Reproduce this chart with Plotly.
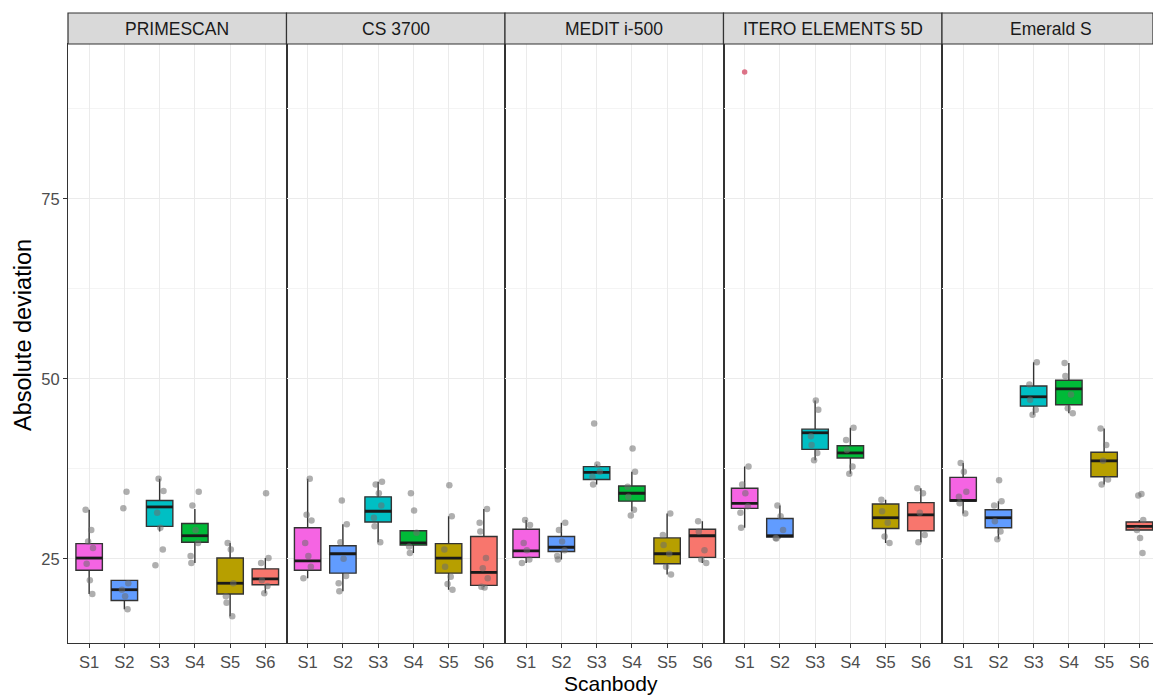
import plotly.graph_objects as go
from plotly.subplots import make_subplots

FACETS = ["PRIMESCAN", "CS 3700", "MEDIT i-500", "ITERO ELEMENTS 5D", "Emerald S"]
SCANBODIES = ["S1", "S2", "S3", "S4", "S5", "S6"]
FILL_COLORS = ["#F564E3", "#619CFF", "#00BFC4", "#00BA38", "#B79F00", "#F8766D"]
Y_TICKS = [25, 50, 75]

# box statistics per facet (rows) and scanbody (columns)
LOWER = [
    [20.1, 18.0, 28.8, 24.4, 17.0, 20.2],
    [22.3, 20.5, 27.3, 25.8, 20.7, 21.1],
    [24.4, 24.9, 35.3, 31.6, 22.8, 24.4],
    [29.3, 27.8, 38.7, 36.8, 27.2, 27.3],
    [31.3, 27.7, 45.0, 45.2, 35.3, 29.0],
]
Q1 = [
    [23.4, 19.2, 29.5, 27.3, 20.1, 21.4],
    [23.4, 23.0, 30.1, 26.9, 23.0, 21.3],
    [25.2, 26.0, 36.0, 33.0, 24.3, 25.2],
    [32.0, 28.0, 40.2, 39.0, 29.2, 28.9],
    [33.0, 29.3, 46.2, 46.4, 36.4, 29.0],
]
MEDIAN = [
    [25.1, 20.7, 32.2, 28.2, 21.6, 22.2],
    [24.7, 25.7, 31.6, 27.2, 25.1, 23.1],
    [26.1, 26.6, 37.0, 34.1, 25.7, 28.2],
    [32.7, 28.2, 42.5, 39.7, 30.7, 31.1],
    [33.1, 30.7, 47.5, 48.6, 38.6, 29.5],
]
Q3 = [
    [27.1, 22.0, 33.1, 29.9, 25.1, 23.6],
    [29.3, 26.8, 33.6, 28.9, 27.1, 28.1],
    [29.1, 28.1, 37.8, 35.1, 27.9, 29.1],
    [34.8, 30.6, 43.0, 40.7, 32.6, 32.8],
    [36.3, 31.8, 49.0, 49.8, 39.8, 30.1],
]
UPPER = [
    [31.8, 22.0, 36.1, 31.9, 27.2, 25.1],
    [36.1, 29.8, 35.7, 28.9, 30.9, 31.9],
    [30.4, 30.0, 38.1, 37.1, 31.3, 30.2],
    [37.8, 32.4, 47.0, 43.2, 33.2, 34.8],
    [38.3, 33.0, 52.3, 52.2, 43.1, 30.4],
]

# individual observations (jittered grey points)
PRIMESCAN_POINTS = [
    [31.8, 29.0, 27.4, 26.5, 24.3, 22.0, 20.1],
    [34.3, 32.0, 21.6, 20.7, 19.8, 18.0],
    [36.1, 34.4, 31.4, 29.3, 26.3, 24.1],
    [34.3, 32.4, 29.0, 27.2, 25.4, 24.4],
    [27.2, 26.3, 21.6, 19.8, 18.9, 17.0],
    [34.1, 25.1, 24.4, 22.0, 21.2, 20.2],
]
CS3700_POINTS = [
    [36.1, 31.1, 30.3, 27.2, 25.4, 23.9, 22.3],
    [33.1, 29.8, 27.3, 25.0, 22.6, 21.6, 20.5],
    [35.7, 35.3, 34.1, 32.4, 30.7, 29.5, 27.3],
    [34.1, 31.7, 28.6, 26.7, 25.8],
    [35.2, 30.9, 26.3, 23.9, 22.5, 21.5, 20.7],
    [31.9, 30.0, 28.8, 25.1, 23.7, 22.3, 21.1, 21.0],
]
MEDIT_POINTS = [
    [30.4, 29.7, 27.2, 26.2, 24.9, 24.4],
    [30.0, 29.0, 27.4, 26.2, 25.4, 24.9],
    [43.8, 38.1, 37.1, 36.4, 35.3],
    [40.3, 37.1, 35.0, 33.6, 31.8, 31.0],
    [31.3, 28.3, 26.9, 25.7, 23.9, 22.8],
    [30.2, 28.8, 26.2, 24.9, 24.4],
]
ITERO_POINTS = [
    [37.8, 35.3, 34.1, 32.3, 31.4, 29.3],
    [32.4, 30.9, 29.0, 27.9, 27.8],
    [47.0, 45.7, 42.0, 40.8, 39.7, 38.7],
    [43.2, 41.5, 40.1, 37.8, 36.8],
    [33.2, 31.6, 30.0, 28.1, 27.2],
    [34.8, 34.1, 31.4, 28.3, 27.3],
]
EMERALD_POINTS = [
    [38.3, 37.1, 34.3, 33.6, 32.7, 31.3],
    [35.9, 33.0, 32.4, 30.2, 28.8, 27.7],
    [52.3, 49.2, 47.1, 45.7, 45.0],
    [52.2, 50.4, 47.8, 45.9, 45.2],
    [43.1, 40.8, 38.6, 36.0, 35.3],
    [34.0, 33.8, 30.4, 29.0, 27.9, 25.8],
]
ALL_POINTS = [PRIMESCAN_POINTS, CS3700_POINTS, MEDIT_POINTS, ITERO_POINTS, EMERALD_POINTS]

# box-plot outliers (facet index, scanbody index, value)
OUTLIER_FACET = [3]
OUTLIER_BODY = [0]
OUTLIER_VALUE = [92.6]

# ---- style / layout constants ----
JITTER = [-0.10, 0.06, -0.03, 0.11, -0.07, 0.02, 0.09, -0.12]
BOX_W = 0.75
W, H = 1153, 695
ML, MR, MT, MB = 68, 0, 44, 52
PANEL_PX = 218.5
LAST_PX = W - ML - MR - 4 * PANEL_PX
PX_PER_UNIT = PANEL_PX / 6.2
STRIP_PX = 31
PLOT_H = H - MT - MB
FONT = "Liberation Sans, Arial, Helvetica, sans-serif"

fig = make_subplots(rows=1, cols=5, shared_yaxes=True, horizontal_spacing=0,
                    column_widths=[PANEL_PX] * 4 + [LAST_PX])

positions = list(range(1, len(SCANBODIES) + 1))

for f, facet in enumerate(FACETS):
    col = f + 1
    for s, body in enumerate(SCANBODIES):
        xpos = positions[s]
        fig.add_trace(go.Box(
            x=[xpos], q1=[Q1[f][s]], median=[MEDIAN[f][s]], q3=[Q3[f][s]],
            lowerfence=[LOWER[f][s]], upperfence=[UPPER[f][s]],
            width=BOX_W, whiskerwidth=0, boxpoints=False,
            fillcolor=FILL_COLORS[s], line=dict(color="#333333", width=1.4),
            showlegend=False, hoverinfo="skip"), row=1, col=col)
        # thicker median line (ggplot fatten)
        fig.add_trace(go.Scatter(
            x=[xpos - BOX_W / 2, xpos + BOX_W / 2], y=[MEDIAN[f][s]] * 2,
            mode="lines", line=dict(color="#1a1a1a", width=2.8),
            showlegend=False, hoverinfo="skip"), row=1, col=col)
    # jittered points
    for s, body in enumerate(SCANBODIES):
        vals = ALL_POINTS[f][s]
        xs = [positions[s] + JITTER[(k + s + f) % len(JITTER)] for k in range(len(vals))]
        fig.add_trace(go.Scatter(
            x=xs, y=vals, mode="markers",
            marker=dict(color="rgba(110,110,110,0.55)", size=6.5),
            showlegend=False, hoverinfo="skip"), row=1, col=col)

for fi, bi, v in zip(OUTLIER_FACET, OUTLIER_BODY, OUTLIER_VALUE):
    fig.add_trace(go.Scatter(
        x=[positions[bi]], y=[v], mode="markers",
        marker=dict(color="rgba(215,90,115,0.85)", size=5.5),
        showlegend=False, hoverinfo="skip"), row=1, col=fi + 1)

last_hi = 0.4 + LAST_PX / PX_PER_UNIT
for i in range(1, 6):
    rng = [0.4, 6.6] if i < 5 else [0.4, last_hi]
    fig.update_xaxes(
        range=rng, tickmode="array", tickvals=positions, ticktext=SCANBODIES,
        showgrid=True, gridcolor="#EBEBEB", gridwidth=1, zeroline=False,
        showline=True, linecolor="#333333", linewidth=1.2, mirror=True,
        ticks="outside", ticklen=4, tickcolor="#333333", tickwidth=1,
        tickfont=dict(family=FONT, size=16.5, color="#4D4D4D"),
        row=1, col=i)
    fig.update_yaxes(
        range=[13.3, 96.5], tickmode="array", tickvals=Y_TICKS,
        showgrid=True, gridcolor="#EBEBEB", gridwidth=1, zeroline=False,
        minor=dict(dtick=12.5, tick0=0, showgrid=True, gridcolor="#F4F4F4", gridwidth=0.6),
        showline=True, linecolor="#333333", linewidth=1.2, mirror=True,
        ticks="outside" if i == 1 else "", ticklen=4, tickcolor="#333333", tickwidth=1,
        showticklabels=(i == 1),
        tickfont=dict(family=FONT, size=16.5, color="#4D4D4D"),
        row=1, col=i)

shapes = []
annotations = []
strip_top = 1 + STRIP_PX / PLOT_H
for i, facet in enumerate(FACETS, start=1):
    xr = "x domain" if i == 1 else f"x{i} domain"
    shapes.append(dict(type="rect", xref=xr, yref="paper", x0=0, x1=1, y0=1, y1=strip_top,
                       fillcolor="#D9D9D9", line=dict(color="#333333", width=1.2), layer="above"))
    annotations.append(dict(text=facet, xref="x" if i == 1 else f"x{i}", x=3.5,
                            yref="paper", y=1 + STRIP_PX / 2 / PLOT_H, xanchor="center", yanchor="middle",
                            showarrow=False, font=dict(family=FONT, size=17.5, color="#1A1A1A")))

annotations.append(dict(text="Absolute deviation", xref="paper", yref="paper",
                        x=(23 - ML) / (W - ML - MR), y=(H - MB - 335) / PLOT_H, textangle=-90,
                        xanchor="center", yanchor="middle", showarrow=False,
                        font=dict(family=FONT, size=23.5, color="#000000")))
annotations.append(dict(text="Scanbody", xref="paper", yref="paper",
                        x=(611 - ML) / (W - ML - MR), y=-(683 - (H - MB)) / PLOT_H,
                        xanchor="center", yanchor="middle", showarrow=False,
                        font=dict(family=FONT, size=21, color="#000000")))

fig.update_layout(
    width=W, height=H, autosize=False,
    margin=dict(l=ML, r=MR, t=MT, b=MB, pad=0),
    paper_bgcolor="white", plot_bgcolor="white",
    showlegend=False, boxmode="overlay",
    shapes=shapes, annotations=annotations,
    font=dict(family=FONT),
)

fig.write_html("out.html", config={"displayModeBar": False},
               post_script="document.body.style.margin='0';document.body.style.overflow='hidden';")
